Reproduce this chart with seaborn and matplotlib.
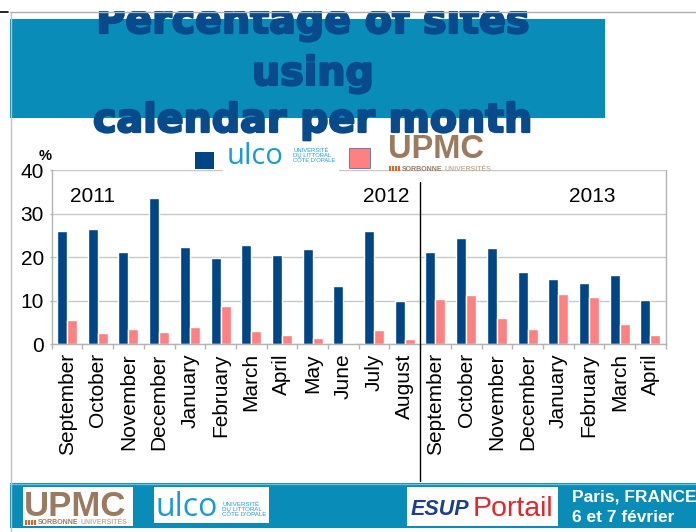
import matplotlib
matplotlib.use("Agg")
import matplotlib.pyplot as plt
import matplotlib.transforms as mtransforms
import matplotlib.patheffects as pe
from matplotlib.patches import Rectangle
import seaborn as sns
import pandas as pd

# ---- data -------------------------------------------------------------
months = ["September", "October", "November", "December", "January",
          "February", "March", "April", "May", "June", "July", "August",
          "September", "October", "November", "December", "January",
          "February", "March", "April"]
ulco_pct = [25.9, 26.4, 21.1, 33.6, 22.3, 19.9, 22.9, 20.5, 21.8, 13.4,
            26.0, 9.9, 21.1, 24.4, 22.0, 16.6, 14.9, 14.0, 15.9, 10.2]
upmc_pct = [5.5, 2.7, 3.4, 2.8, 3.9, 8.7, 3.1, 2.1, 1.4, 0.3,
            3.3, 1.2, 10.3, 11.3, 6.0, 3.4, 11.5, 10.9, 4.6, 2.1]
series_names = ["ULCO", "UPMC"]
year_labels = ["2011", "2012", "2013"]
y_ticks = [0, 10, 20, 30, 40]
title_lines = ["Percentage of sites", "using", "calendar per month"]

# ---- styling ----------------------------------------------------------
W, H = 696, 532
BLUE = "#004586"
PINK = "#ff8080"
TEAL = "#098db8"
NAVY = "#084a8a"
CYAN = "#1a9ad8"
BROWN = "#9b7b60"
ORANGE = "#e0651e"
GRID = "#c8c8c8"

sns.set_theme(style="white")
plt.rcParams["font.family"] = ["Liberation Sans", "DejaVu Sans"]

fig = plt.figure(figsize=(W / 100, H / 100), dpi=100)
fig.patch.set_facecolor("white")


def fx(x):
    return x / W


def fy(y):
    return 1 - y / H


def rect(x0, y0, x1, y1, **kw):
    r = Rectangle((fx(x0), fy(y1)), fx(x1) - fx(x0), fy(y0) - fy(y1),
                  transform=fig.transFigure, **kw)
    fig.add_artist(r)
    return r


def text(x, y, s, **kw):
    return fig.text(fx(x), fy(y), s, **kw)


def upmc_logo(x, y_base, big, small, gap, z):
    """UPMC wordmark with the Sorbonne Universités strapline below."""
    text(x, y_base, "UPMC", fontsize=big, fontweight="bold", color=BROWN,
         va="baseline", zorder=z)
    sy = y_base + gap
    for k in range(4):
        rect(x + 1 + k * 3, sy - 5, x + 3 + k * 3, sy, facecolor=ORANGE,
             edgecolor="none", zorder=z)
    text(x + 14, sy, "SORBONNE", fontsize=small, fontweight="bold",
         color=BROWN, va="baseline", zorder=z)
    text(x + 14 + 5.9 * small * 100 / 72 + 2, sy, "UNIVERSITÉS", fontsize=small,
         fontweight="bold", color="#c9b09c", va="baseline", zorder=z)


# ---- chart ------------------------------------------------------------
ax = fig.add_axes([fx(51.7), fy(344.3), fx(665.7) - fx(51.7), fy(170) - fy(344.3)])
slots = list(range(len(months)))
df = pd.DataFrame({
    "slot": slots * 2,
    "series": [series_names[0]] * len(slots) + [series_names[1]] * len(slots),
    "value": ulco_pct + upmc_pct,
})
sns.barplot(data=df, x="slot", y="value", hue="series", hue_order=series_names,
            palette=[BLUE, PINK], width=0.65, saturation=1, legend=False,
            errorbar=None, ax=ax)

ax.set_xlim(-0.5, len(slots) - 0.5)
ax.set_ylim(0, 40)
ax.set_yticks(y_ticks)
ax.set_yticklabels([str(v) for v in y_ticks])
ax.set_xticks(slots)
ax.set_xticklabels(months, rotation=90)
ax.set_xticks([i - 0.5 for i in range(len(slots) + 1)], minor=True)
ax.tick_params(axis="x", which="major", length=0, pad=6.5, labelsize=15,
               colors="black")
ax.tick_params(axis="x", which="minor", bottom=True, length=3.6, width=1,
               color="#b3b3b3")
ax.tick_params(axis="y", left=True, length=1.5, width=1, color="#b3b3b3",
               pad=4, labelsize=15, labelcolor="black")
ax.yaxis.grid(True, color=GRID, lw=1)
ax.set_axisbelow(True)
ax.set_xlabel("")
ax.set_ylabel("")
for side in ("left", "right", "bottom"):
    ax.spines[side].set_visible(True)
    ax.spines[side].set_color("#b3b3b3")
    ax.spines[side].set_linewidth(1)
ax.spines["top"].set_visible(False)

# school-year divider between August 2012 and September 2012
blend = mtransforms.blended_transform_factory(ax.transData, fig.transFigure)
ax.plot([11.5, 11.5], [fy(182), fy(481)], color="black", lw=1,
        transform=blend, clip_on=False, zorder=5)

# year labels
for (xp, yp), label in zip([(92.5, 196), (386.5, 196), (592.5, 196)], year_labels):
    text(xp, yp, label, ha="center", va="center", fontsize=15, color="black")
text(45.5, 156, "%", ha="center", va="center", fontsize=10.5,
     fontweight="bold", color="black")

# ---- legend (colour keys + institution names) -------------------------
rect(223, 140, 339, 172.5, facecolor="white", edgecolor="none", zorder=2)
rect(195, 151.5, 214, 168.5, facecolor=BLUE, edgecolor="none", zorder=3)
rect(349, 148, 370, 168, facecolor=PINK, edgecolor="#5a6fa8", lw=0.6, zorder=3)
text(227, 163.5, "ulco", fontsize=21, color=CYAN, family="Open Sans",
     va="baseline", zorder=4)
text(293, 155.8, "UNIVERSITÉ\nDU LITTORAL\nCÔTE D'OPALE", fontsize=4.2,
     color=CYAN, va="center", linespacing=1.05, zorder=4)
upmc_logo(388, 158, 23.5, 5.0, 13, 4)

# ---- slide frame and title banner --------------------------------------
rect(10, 19, 605, 118, facecolor=TEAL, edgecolor="none", zorder=1)
heavy = [pe.withStroke(linewidth=1.6, foreground=NAVY)]
for yy, line in zip([33, 85, 132], title_lines):
    text(313, yy, line, ha="center", va="baseline", fontsize=28.5,
         fontweight="bold", color=NAVY, family="DejaVu Sans", zorder=3,
         path_effects=heavy)
rect(0, 0, W, 11, facecolor="white", edgecolor="none", zorder=10)
fig.add_artist(plt.Line2D([fx(10), 1], [fy(11.5), fy(11.5)], color="#b0b0b0",
                          lw=1, transform=fig.transFigure, zorder=11))
fig.add_artist(plt.Line2D([0, fx(8)], [fy(12), fy(12)], color="black",
                          lw=1.2, transform=fig.transFigure, zorder=11))
fig.add_artist(plt.Line2D([fx(10.5), fx(10.5)], [fy(11.5), 0], color="#c0c0c0",
                          lw=1, transform=fig.transFigure, zorder=11))

# ---- footer -------------------------------------------------------------
rect(10, 483, W, 528, facecolor=TEAL, edgecolor="none", zorder=1)
fig.add_artist(plt.Line2D([fx(10), 1], [fy(483.5), fy(483.5)], color="#6cc0dc",
                          lw=1, transform=fig.transFigure, zorder=2))
# UPMC box
rect(23, 487, 133, 526, facecolor="white", edgecolor="none", zorder=2)
upmc_logo(24, 515.5, 25, 5.0, 9, 3)
# ULCO box
rect(154, 487, 269, 523, facecolor="white", edgecolor="none", zorder=2)
text(156, 516, "ulco", fontsize=23, color=CYAN, family="Open Sans",
     va="baseline", zorder=3)
text(222, 509.5, "UNIVERSITÉ\nDU LITTORAL\nCÔTE D'OPALE", fontsize=4.4,
     color=CYAN, va="center", linespacing=1.05, zorder=3)
# ESUP Portail box
rect(407, 487, 558, 526, facecolor="white", edgecolor="none", zorder=2)
text(411, 515, "ESUP", fontsize=15.5, fontweight="bold", fontstyle="italic",
     color="#1d3f8f", va="baseline", zorder=3)
text(473, 516, "Portail", fontsize=20.5, color="#e3262a", va="baseline",
     zorder=3)
# event text
text(572, 501.7, "Paris, FRANCE", fontsize=12.5, fontweight="bold",
     color="white", va="baseline", zorder=3)
text(572, 521.5, "6 et 7 février", fontsize=12.5, fontweight="bold",
     color="white", va="baseline", zorder=3)

fig.savefig("out.png", dpi=100, facecolor="white")
